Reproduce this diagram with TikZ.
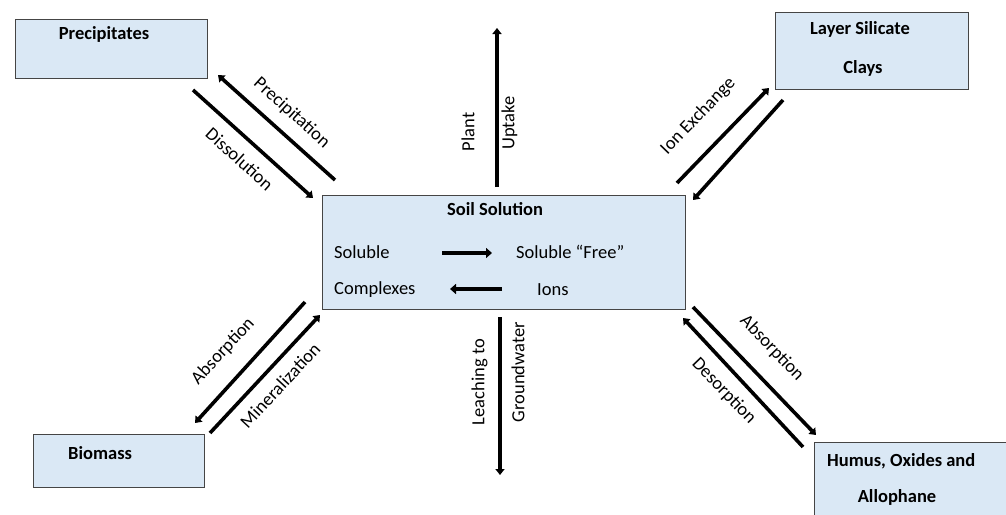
\documentclass[tikz,border=0pt]{standalone}
\usepackage{fontspec}
\setmainfont{Carlito}
\usetikzlibrary{arrows.meta}
\definecolor{boxfill}{HTML}{DAE8F5}
\definecolor{boxline}{HTML}{454545}
\begin{document}
\begin{tikzpicture}[x=1pt,y=-1pt,
  box/.style={draw=boxline,fill=boxfill,line width=1.3pt,rectangle,inner sep=0pt,anchor=north west},
  boxtext/.style={font=\fontsize{18.5}{22}\selectfont\bfseries,inner sep=0pt,anchor=mid},
  lbl/.style={font=\fontsize{18.5}{22}\selectfont,inner sep=0pt,anchor=mid},
  flow/.style={line width=3.6pt,-{Triangle[length=6pt,width=9pt]}}]
\useasboundingbox (0,0) rectangle (1006,514);
\clip (0,0) rectangle (1006,514);

% boxes
\node[box,minimum width=192pt,minimum height=59pt] (prec) at (15,19) {};
\node[box,minimum width=193pt,minimum height=77pt] (clay) at (775,12) {};
\node[box,minimum width=363pt,minimum height=114pt] (soil) at (322,195) {};
\node[box,minimum width=171pt,minimum height=53pt] (bio) at (33,434) {};
\node[box,minimum width=210pt,minimum height=90pt] (hum) at (814,442) {};

% box texts
\node[boxtext] (tprec) at (104,37) {Precipitates};
\node[boxtext] (tclay1) at (860,32) {Layer Silicate};
\node[boxtext] (tclay2) at (863,71) {Clays};
\node[boxtext] (tsoil) at (495,213) {Soil Solution};
\node[boxtext,anchor=west] (tbio) at (68,453) {Biomass};
\node[boxtext,anchor=west] (thum1) at (827,461) {Humus, Oxides and};
\node[boxtext] (thum2) at (897,500) {Allophane};

% inside soil solution
\node[lbl,anchor=west] (sol1) at (334,252) {Soluble};
\node[lbl,anchor=west] (free) at (516,252) {Soluble “Free”};
\node[lbl,anchor=west] (comp) at (334,290) {Complexes};
\node[lbl,anchor=west] (ions) at (537,290) {Ions};
\coordinate (r1) at (442,253);
\coordinate (r2) at (492,253);
\coordinate (l1) at (502,289);
\coordinate (l2) at (450,289);
\draw[line width=4.5pt,-{Triangle[length=6pt,width=10pt]}] (r1) -- (r2);
\draw[line width=4.5pt,-{Triangle[length=6pt,width=10pt]}] (l1) -- (l2);

% precipitation / dissolution
\coordinate (pa1) at (335,180);
\coordinate (pa2) at (218,75);
\coordinate (da1) at (193,90);
\coordinate (da2) at (313,198);
\draw[flow] (pa1) -- (pa2);
\draw[flow] (da1) -- (da2);
\node[lbl,rotate=-42] (lprec) at (290,115) {Precipitation};
\node[lbl,rotate=-42] (ldiss) at (237,162) {Dissolution};

% plant uptake
\coordinate (u1) at (497,187);
\coordinate (u2) at (497,28);
\draw[flow] (u1) -- (u2);
\node[lbl,rotate=90] (lplant) at (472,132) {Plant};
\node[lbl,rotate=90] (lupt) at (512,123) {Uptake};

% leaching
\coordinate (g1) at (500,317);
\coordinate (g2) at (500,475);
\draw[flow] (g1) -- (g2);
\node[lbl,rotate=90] (lleach) at (482,382) {Leaching to};
\node[lbl,rotate=90] (lground) at (522,372) {Groundwater};

% ion exchange
\coordinate (i1) at (677,183);
\coordinate (i2) at (769,88);
\coordinate (i3) at (783,100);
\coordinate (i4) at (693,200);
\draw[flow] (i1) -- (i2);
\draw[flow] (i3) -- (i4);
\node[lbl,rotate=46] (lion) at (700,118) {Ion Exchange};

% absorption / mineralization
\coordinate (a1) at (305,302);
\coordinate (a2) at (195,423);
\coordinate (m1) at (210,433);
\coordinate (m2) at (320,315);
\draw[flow] (a1) -- (a2);
\draw[flow] (m1) -- (m2);
\node[lbl,rotate=47] (labs) at (225,353) {Absorption};
\node[lbl,rotate=47] (lmin) at (283,388) {Mineralization};

% absorption / desorption
\coordinate (b1) at (693,307);
\coordinate (b2) at (816,435);
\coordinate (d1) at (803,447);
\coordinate (d2) at (683,318);
\draw[flow] (b1) -- (b2);
\draw[flow] (d1) -- (d2);
\node[lbl,rotate=-46] (labs2) at (770,350) {Absorption};
\node[lbl,rotate=-46] (ldes) at (722,393) {Desorption};
\end{tikzpicture}
\end{document}
